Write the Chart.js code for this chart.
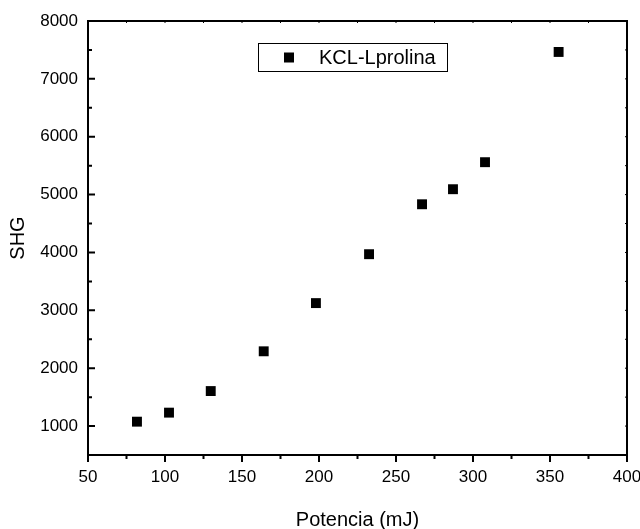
<!DOCTYPE html>
<html>
<head>
<meta charset="utf-8">
<script src="https://cdn.jsdelivr.net/npm/chart.js@4/dist/chart.umd.min.js"></script>
<style>
html, body { margin: 0; padding: 0; background: #fff; }
#wrap { width: 640px; height: 529px; }
</style>
</head>
<body>
<div id="wrap"><canvas id="shgChart" width="640" height="529"></canvas></div>
<script>
// datos: potencia (mJ) vs SHG
const potencia = [81.8, 102.6, 129.7, 164.1, 198.0, 232.5, 266.9, 287.0, 307.8, 355.6];
const shg = [1076, 1232, 1605, 2292, 3125, 3970, 4833, 5093, 5560, 7465];
const serieLabel = 'KCL-Lprolina';

// ticks
const xTicks = [50, 100, 150, 200, 250, 300, 350, 400];
const xMinor = [75, 125, 175, 225, 275, 325, 375];
const yTicks = [1000, 2000, 3000, 4000, 5000, 6000, 7000, 8000];
const yMinor = [1500, 2500, 3500, 4500, 5500, 6500, 7500];

Chart.defaults.font.family = "'Liberation Sans', Arial, sans-serif";
Chart.defaults.color = '#000';

// marco, ticks hacia adentro/afuera y leyenda dentro del area
const framePlugin = {
  id: 'frame',
  afterDraw(chart) {
    const ctx = chart.ctx;
    const a = chart.chartArea;
    const x = chart.scales.x;
    const y = chart.scales.y;
    ctx.save();
    ctx.strokeStyle = '#000';
    ctx.lineWidth = 2;
    ctx.strokeRect(a.left, a.top, a.right - a.left, a.bottom - a.top);

    ctx.beginPath();
    // eje inferior: ticks hacia afuera
    xTicks.forEach(v => { const p = x.getPixelForValue(v); ctx.moveTo(p, a.bottom); ctx.lineTo(p, a.bottom + 7); });
    xMinor.forEach(v => { const p = x.getPixelForValue(v); ctx.moveTo(p, a.bottom); ctx.lineTo(p, a.bottom + 4); });
    // eje izquierdo: ticks hacia adentro
    yTicks.forEach(v => { const p = y.getPixelForValue(v); ctx.moveTo(a.left, p); ctx.lineTo(a.left + 7, p); });
    yMinor.forEach(v => { const p = y.getPixelForValue(v); ctx.moveTo(a.left, p); ctx.lineTo(a.left + 4, p); });
    ctx.stroke();

    ctx.lineWidth = 1;
    ctx.beginPath();
    // ticks chiquitos arriba y a la derecha
    xTicks.concat(xMinor).forEach(v => { const p = x.getPixelForValue(v); ctx.moveTo(p, a.top); ctx.lineTo(p, a.top + 2); });
    yTicks.concat(yMinor).forEach(v => { const p = y.getPixelForValue(v); ctx.moveTo(a.right, p); ctx.lineTo(a.right - 2, p); });
    ctx.stroke();

    // leyenda
    const lx = a.left + 170, ly = a.top + 22, lw = 189, lh = 28;
    ctx.fillStyle = '#fff';
    ctx.fillRect(lx, ly, lw, lh);
    ctx.lineWidth = 1;
    ctx.strokeRect(lx + 0.5, ly + 0.5, lw, lh);
    ctx.fillStyle = '#000';
    ctx.fillRect(lx + 26, ly + 9.5, 10, 10);
    ctx.font = "20px 'Liberation Sans', Arial, sans-serif";
    ctx.textBaseline = 'middle';
    ctx.textAlign = 'left';
    ctx.fillText(serieLabel, lx + 61, ly + lh / 2 + 1);
    ctx.restore();
  }
};

const ChartA = document.getElementById('shgChart');
const shgChart = new Chart(ChartA, {
  type: 'scatter',
  data: {
    datasets: [{
      label: serieLabel,
      data: potencia.map((v, i) => ({ x: v, y: shg[i] })),
      pointStyle: 'rect',
      pointRadius: 7,
      backgroundColor: '#000',
      borderColor: '#000',
      borderWidth: 0
    }]
  },
  options: {
    responsive: false,
    animation: false,
    layout: { padding: { top: 21, right: 13, left: 0, bottom: 0 } },
    plugins: {
      legend: { display: false },
      tooltip: { enabled: false }
    },
    scales: {
      x: {
        type: 'linear',
        min: 50,
        max: 400,
        afterBuildTicks: s => { s.ticks = xTicks.map(v => ({ value: v })); },
        afterFit: s => { s.height = 74; s.paddingLeft = 0; s.paddingRight = 0; },
        grid: { display: false, drawTicks: false },
        border: { display: false },
        ticks: { color: '#000', font: { size: 17 }, padding: 12, maxRotation: 0, callback: v => String(v) },
        title: {
          display: true,
          text: 'Potencia (mJ)',
          color: '#000',
          font: { size: 20, lineHeight: 0.85 },
          padding: { top: 0, bottom: 0 }
        }
      },
      y: {
        type: 'linear',
        min: 500,
        max: 8000,
        afterBuildTicks: s => { s.ticks = yTicks.map(v => ({ value: v })); },
        afterFit: s => { s.width = 88; s.paddingTop = 0; s.paddingBottom = 0; },
        grid: { display: false, drawTicks: false },
        border: { display: false },
        ticks: { color: '#000', font: { size: 17 }, padding: 10, callback: v => String(v) },
        title: {
          display: true,
          text: 'SHG',
          color: '#000',
          font: { size: 20 },
          padding: { top: 6, bottom: 0 }
        }
      }
    }
  },
  plugins: [framePlugin]
});
</script>
</body>
</html>
